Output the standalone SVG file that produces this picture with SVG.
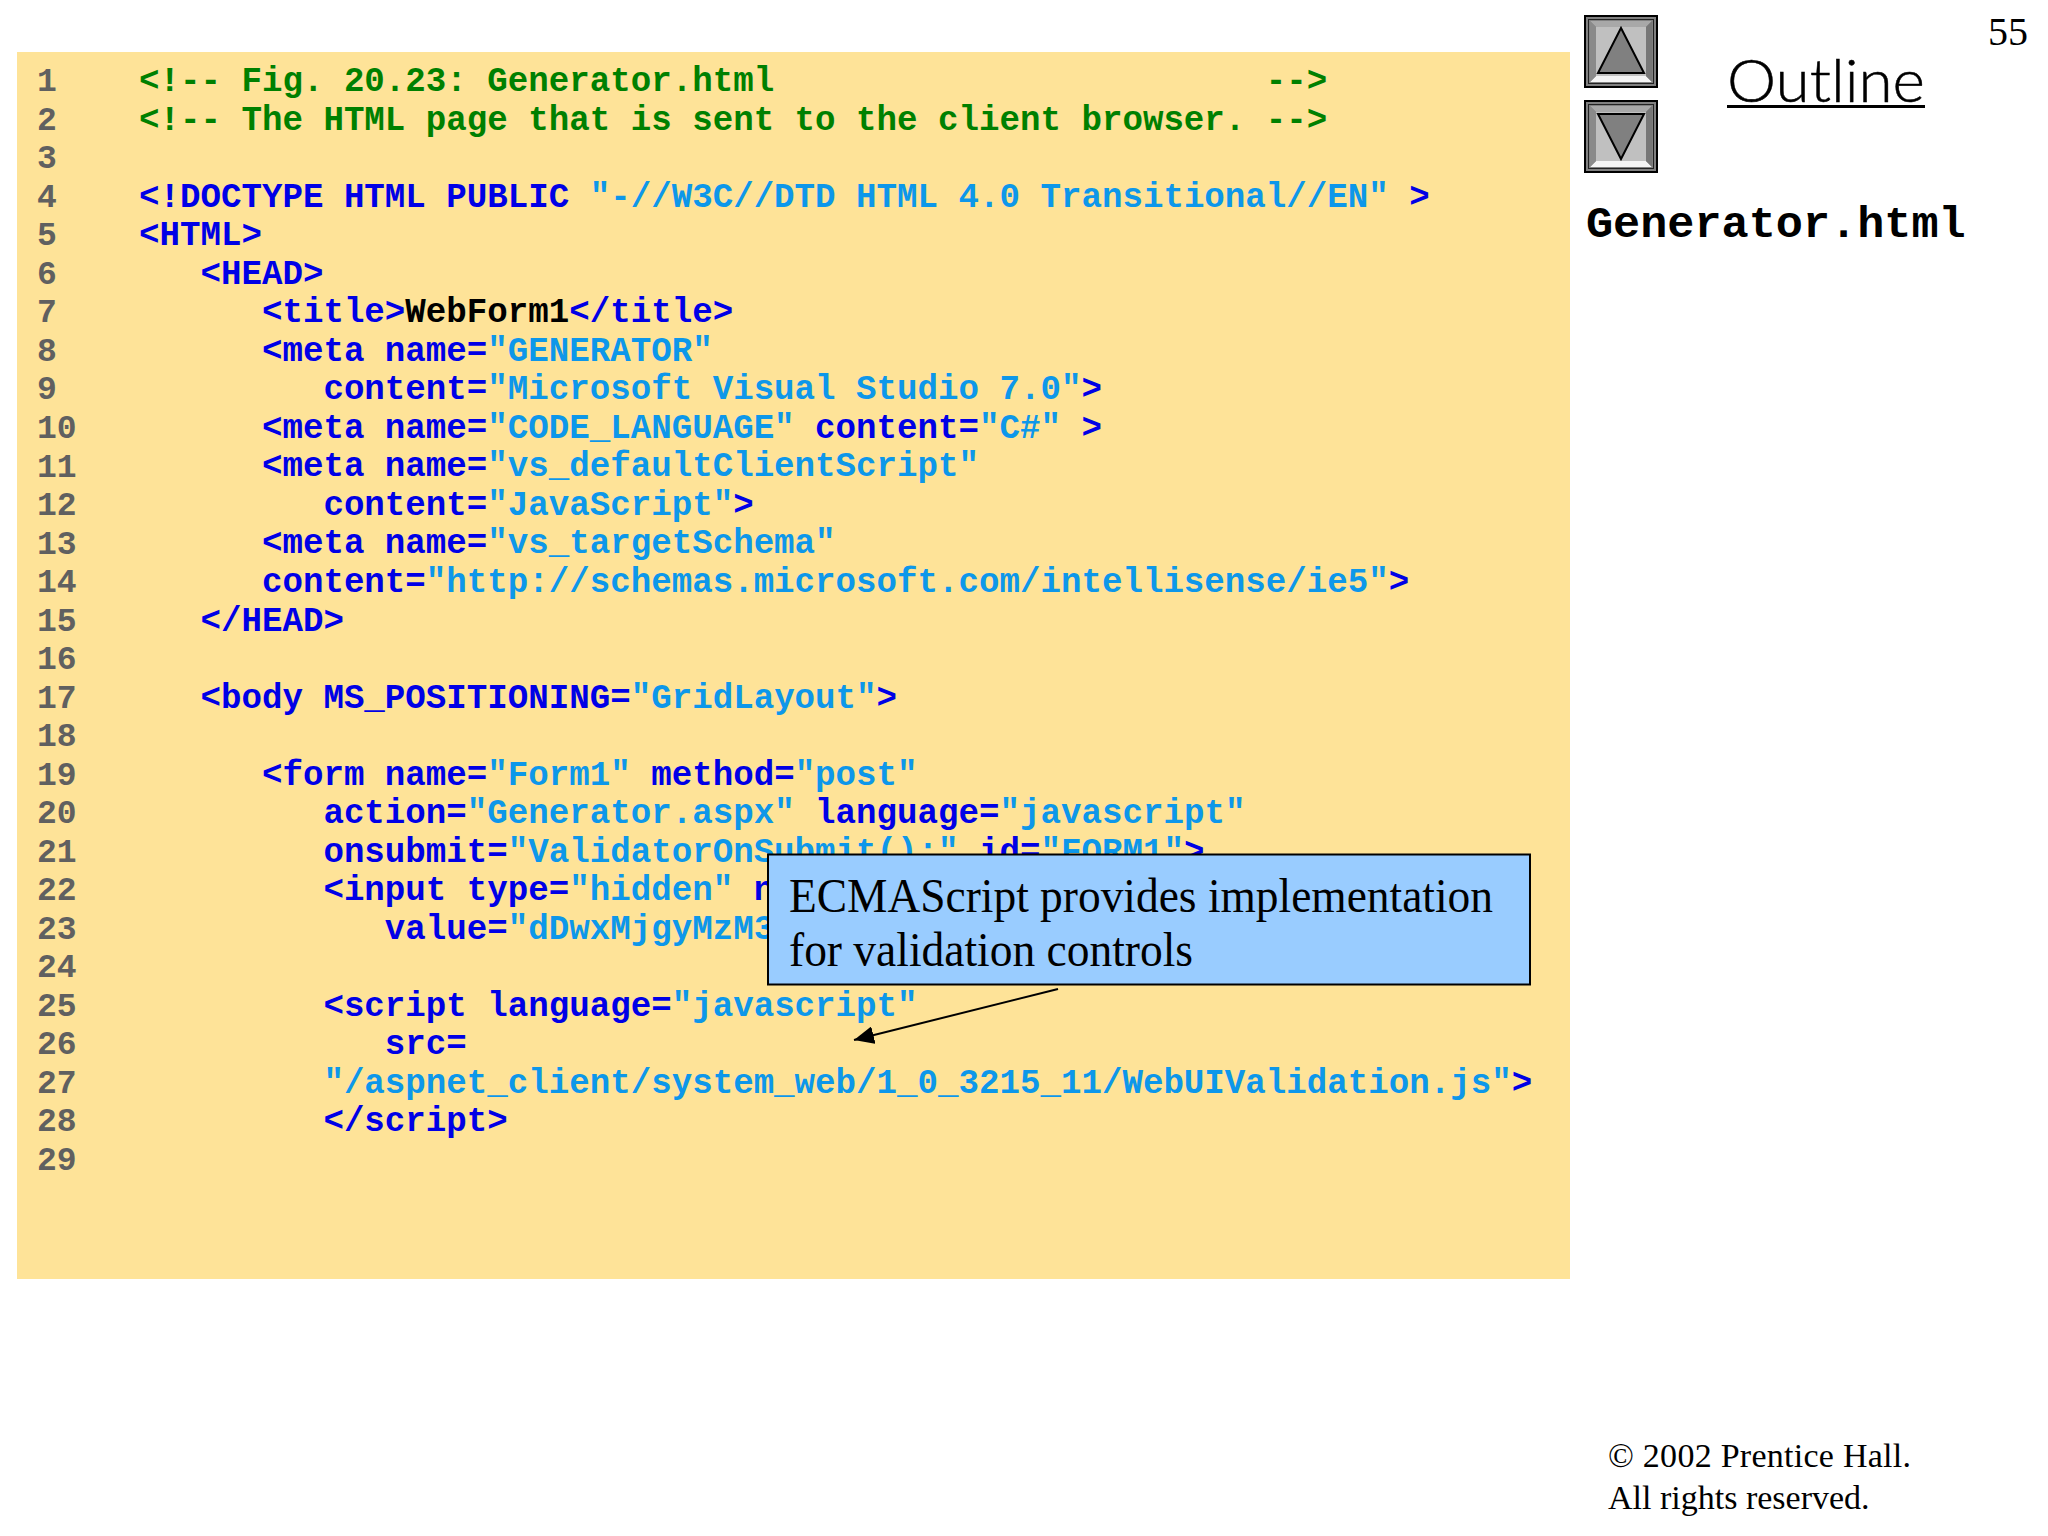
<svg xmlns="http://www.w3.org/2000/svg" width="2048" height="1536" viewBox="0 0 2048 1536">
<defs>
<style>
.c{font-family:"Liberation Mono","Courier New",monospace;font-weight:700;font-size:34.15px;fill:#0000e6;white-space:pre}
.n{font-family:"Liberation Mono","Courier New",monospace;font-size:33px;fill:#606060;font-weight:700}
.g{fill:#008000}.s{fill:#0d97ea}.k{fill:#000}
.t{font-family:"Liberation Serif","Times New Roman",serif;fill:#000}
</style>
<marker id="ah" markerUnits="userSpaceOnUse" markerWidth="22" markerHeight="18" refX="20" refY="9" orient="auto"><path d="M0 0L20 9L0 18Z" fill="#000"/></marker>
<g id="btn">
<rect x="0" y="0" width="72" height="71" fill="#808080" stroke="#000" stroke-width="2"/>
<rect x="3.500" y="3.500" width="65" height="64" fill="none" stroke="#222" stroke-width="1"/>
<polygon points="5,5 67,5 61,11 11,11" fill="#a8a8a8"/>
<polygon points="5,66 67,66 61,60 11,60" fill="#f4f4f4"/>
<polygon points="5,5 11,11 11,60 5,66" fill="#8a8a8a"/>
<polygon points="67,5 61,11 61,60 67,66" fill="#777"/>
<rect x="11" y="11" width="50" height="49" fill="#c0c0c0"/>
</g>
</defs>
<rect width="2048" height="1536" fill="#fff"/>
<rect id="code-panel" x="17" y="52" width="1553" height="1227" fill="#fee398"/>
<g id="line-numbers" class="n">
<text x="37" y="91">1</text><text x="37" y="130">2</text><text x="37" y="168">3</text><text x="37" y="207">4</text><text x="37" y="245">5</text><text x="37" y="284">6</text><text x="37" y="322">7</text><text x="37" y="361">8</text><text x="37" y="399">9</text><text x="37" y="438">10</text><text x="37" y="477">11</text><text x="37" y="515">12</text><text x="37" y="554">13</text><text x="37" y="592">14</text><text x="37" y="631">15</text><text x="37" y="669">16</text><text x="37" y="708">17</text><text x="37" y="746">18</text><text x="37" y="785">19</text><text x="37" y="823">20</text><text x="37" y="862">21</text><text x="37" y="900">22</text><text x="37" y="939">23</text><text x="37" y="977">24</text><text x="37" y="1016">25</text><text x="37" y="1054">26</text><text x="37" y="1093">27</text><text x="37" y="1131">28</text><text x="37" y="1170">29</text>
</g>
<g id="code" class="c" xml:space="preserve">
<text x="139" y="91" class="c g">&lt;!-- Fig. 20.23: Generator.html                        --&gt;</text>
<text x="139" y="130" class="c g">&lt;!-- The HTML page that is sent to the client browser. --&gt;</text>
<text x="139" y="207" class="c">&lt;!DOCTYPE HTML PUBLIC <tspan class="s">"-//W3C//DTD HTML 4.0 Transitional//EN"</tspan> &gt;</text>
<text x="139" y="245" class="c">&lt;HTML&gt;</text>
<text x="139" y="284" class="c">   &lt;HEAD&gt;</text>
<text x="139" y="322" class="c">      &lt;title&gt;<tspan class="k">WebForm1</tspan>&lt;/title&gt;</text>
<text x="139" y="361" class="c">      &lt;meta name=<tspan class="s">"GENERATOR"</tspan></text>
<text x="139" y="399" class="c">         content=<tspan class="s">"Microsoft Visual Studio 7.0"</tspan>&gt;</text>
<text x="139" y="438" class="c">      &lt;meta name=<tspan class="s">"CODE_LANGUAGE"</tspan> content=<tspan class="s">"C#"</tspan> &gt;</text>
<text x="139" y="476" class="c">      &lt;meta name=<tspan class="s">"vs_defaultClientScript"</tspan></text>
<text x="139" y="515" class="c">         content=<tspan class="s">"JavaScript"</tspan>&gt;</text>
<text x="139" y="553" class="c">      &lt;meta name=<tspan class="s">"vs_targetSchema"</tspan></text>
<text x="139" y="592" class="c">      content=<tspan class="s">"http://schemas.microsoft.com/intellisense/ie5"</tspan>&gt;</text>
<text x="139" y="631" class="c">   &lt;/HEAD&gt;</text>
<text x="139" y="708" class="c">   &lt;body MS_POSITIONING=<tspan class="s">"GridLayout"</tspan>&gt;</text>
<text x="139" y="785" class="c">      &lt;form name=<tspan class="s">"Form1"</tspan> method=<tspan class="s">"post"</tspan></text>
<text x="139" y="823" class="c">         action=<tspan class="s">"Generator.aspx"</tspan> language=<tspan class="s">"javascript"</tspan></text>
<text x="139" y="862" class="c">         onsubmit=<tspan class="s">"ValidatorOnSubmit();"</tspan> id=<tspan class="s">"FORM1"</tspan>&gt;</text>
<text x="139" y="900" class="c">         &lt;input type=<tspan class="s">"hidden"</tspan> n</text>
<text x="139" y="939" class="c">            value=<tspan class="s">"dDwxMjgyMzM3</tspan></text>
<text x="139" y="1016" class="c">         &lt;script language=<tspan class="s">"javascript"</tspan></text>
<text x="139" y="1054" class="c">            src=</text>
<text x="139" y="1093" class="c s">         "/aspnet_client/system_web/1_0_3215_11/WebUIValidation.js"<tspan style="fill:#0000e6">&gt;</tspan></text>
<text x="139" y="1131" class="c">         &lt;/script&gt;</text>
</g>
<g id="callout">
<rect x="768" y="854.500" width="762" height="130" fill="#99ccff" stroke="#000" stroke-width="2"/>
<text class="t" x="789" y="912" font-size="48" textLength="704" lengthAdjust="spacingAndGlyphs">ECMAScript provides implementation</text>
<text class="t" x="789" y="966" font-size="48" textLength="404" lengthAdjust="spacingAndGlyphs">for validation controls</text>
</g>
<g id="connectors">
<line x1="1058" y1="989" x2="854" y2="1040" stroke="#000" stroke-width="2" marker-end="url(#ah)"/>
</g>
<g id="button-up">
<use href="#btn" x="1585" y="16"/>
<polygon points="1621,28 1598,73 1644,73" fill="#808080" stroke="#000" stroke-width="2"/>
</g>
<g id="button-down">
<use href="#btn" x="1585" y="101"/>
<polygon points="1598,114 1644,114 1621,159" fill="#808080" stroke="#000" stroke-width="2"/>
</g>
<g id="outline-title">
<text x="1727" y="102" font-family="Lato,'Open Sans',sans-serif" font-weight="300" font-size="60" textLength="198" lengthAdjust="spacingAndGlyphs" fill="#000" stroke="#000" stroke-width="0.500">Outline</text>
<rect x="1727" y="105" width="198" height="3" fill="#000"/>
</g>
<text id="page-number" class="t" x="1988" y="45" font-size="40">55</text>
<text id="file-name" x="1586" y="237" font-family="'Liberation Mono','Courier New',monospace" font-weight="700" font-size="45.200" fill="#000">Generator.html</text>
<g id="copyright">
<text class="t" x="1608" y="1467" font-size="34" textLength="303" lengthAdjust="spacing">© 2002 Prentice Hall.</text>
<text class="t" x="1608" y="1509" font-size="34">All rights reserved.</text>
</g>
</svg>
